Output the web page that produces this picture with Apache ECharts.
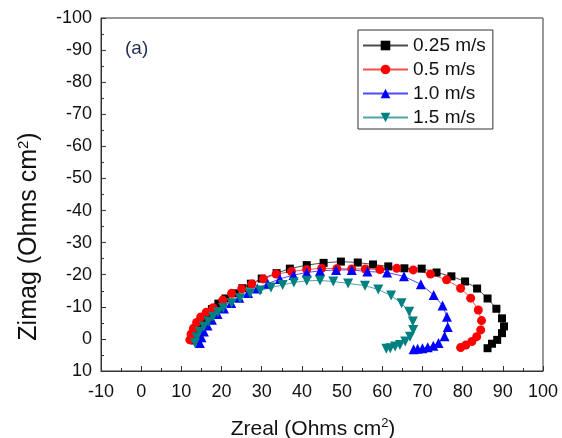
<!DOCTYPE html>
<html>
<head>
<meta charset="utf-8">
<script src="https://cdn.jsdelivr.net/npm/echarts@6/dist/echarts.min.js"></script>
<style>
  html, body { margin: 0; padding: 0; background: #fff; }
  #chart { width: 562px; height: 438px; }
</style>
</head>
<body>
<div id="chart"></div>
<script>
// Nyquist data [Zreal, Zimag]
var s025 = [[13.2,0.5],[13.5,-1.5],[14.2,-3.5],[15.2,-5.5],[16.3,-7.5],[17.6,-9.3],[19.2,-11],[21,-12.6],[23.3,-14.2],[25.2,-15.8],[27.3,-17.2],[30,-18.8],[33.7,-20.5],[37,-21.9],[41.2,-23],[45.4,-23.7],[49.7,-24.1],[53.9,-23.8],[57.7,-23.2],[61.5,-22.6],[65.5,-22],[69.8,-21.9],[73.5,-20.7],[77.2,-19.5],[80.6,-17.9],[83.6,-15.7],[86.2,-12.6],[88.4,-9.4],[89.8,-6.4],[90.3,-3.9],[89.8,-1.8],[88.6,0.3],[87.3,1.5],[86.2,2.9]];
var s05 = [[12.1,0.3],[12.4,-1.5],[13,-3.3],[13.8,-5.1],[14.8,-6.8],[16.2,-8.3],[17.9,-9.7],[20.3,-12.1],[22.5,-14.2],[25,-15.6],[27.5,-17.1],[30.4,-18.7],[33.6,-20.2],[37.4,-21],[41.2,-21.6],[44.9,-22],[48.7,-21.9],[52.4,-21.8],[55.8,-21.8],[59.4,-21.6],[63.6,-22],[67.7,-21.5],[72,-20.2],[76,-18.4],[79.5,-15.8],[82,-12.7],[83.9,-9],[84.7,-5.7],[84.5,-2.8],[83.5,-0.7],[82.3,0.8],[80.8,1.9],[79.5,2.7]];
var s10 = [[14.6,1.3],[15,-0.5],[15.6,-2.3],[16.5,-4.2],[17.6,-6],[19,-7.8],[20.6,-9.5],[22.4,-11.2],[24.4,-12.8],[26.6,-14.3],[28.9,-15.7],[31.5,-17.2],[34.5,-18.7],[37.9,-19.9],[41.2,-20.7],[44.5,-21.2],[48.5,-21.5],[52.4,-21.5],[56.3,-21],[61.2,-20.7],[65.4,-19.5],[69.6,-17],[72.8,-13.7],[75,-10.4],[76.1,-6.9],[76.3,-3.7],[75.5,-0.8],[74,1.3],[72.7,2.1],[71.3,2.6],[70,2.9],[68.8,3.1],[67.8,3.2]];
var s15 = [[13.4,1.3],[13.8,-0.5],[14.5,-2.2],[15.6,-3.9],[16.7,-5.4],[17.9,-6.9],[19.1,-8.3],[20.4,-9.6],[22.5,-11.1],[24.6,-12.7],[27.1,-14.2],[29.6,-15.1],[32.3,-16],[35.2,-16.8],[38,-17.6],[41.2,-18.1],[44.5,-18.2],[47.8,-17.9],[51.5,-17.3],[55.7,-16.6],[59,-15.4],[62.2,-13.5],[64.8,-11.1],[66.7,-8.5],[67.6,-5.4],[67.7,-2.8],[66.9,-0.7],[65.7,0.8],[64.4,1.9],[63.2,2.4],[62,2.9],[61,3.1]];

var names = ['0.25 m/s', '0.5 m/s', '1.0 m/s', '1.5 m/s'];
var colors = ['#000000', '#ff0000', '#0000ff', '#008080'];
var symbols = ['rect', 'circle', 'triangle', 'triangle'];
var sizes = [8, 9, 10, 10];
var rotates = [0, 0, 0, 180];
var allData = [s025, s05, s10, s15];

var font = 'Liberation Sans, Arial, sans-serif';
var myChart = echarts.init(document.getElementById('chart'));

var series = allData.map(function (d, i) {
    return {
        name: names[i],
        type: 'line',
        data: d,
        symbol: symbols[i],
        symbolSize: sizes[i],
        symbolRotate: rotates[i],
        showAllSymbol: true,
        itemStyle: { color: colors[i] },
        lineStyle: { color: colors[i], width: 1, opacity: 0.7 },
        animation: false
    };
});

var option = {
    animation: false,
    grid: {
        left: 101, right: 19, top: 18, bottom: 67,
        outerBoundsMode: 'none',
        show: true, borderColor: '#333', borderWidth: 1
    },
    legend: {
        orient: 'vertical',
        left: 358, top: 30,
        itemWidth: 45, itemHeight: 12, itemGap: 5,
        padding: [6, 7, 2, 4],
        borderColor: '#333', borderWidth: 1,
        textStyle: { fontFamily: font, fontSize: 19, color: '#111' },
        data: names
    },
    xAxis: {
        type: 'value',
        min: -10, max: 100, interval: 10,
        name: 'Zreal (Ohms cm{sup|2})',
        nameLocation: 'middle',
        nameGap: 46,
        nameTextStyle: {
            fontFamily: font, fontSize: 21, color: '#111',
            padding: [0, 18, 0, 0],
            rich: { sup: { fontSize: 13, padding: [0, 0, 11, 0], fontFamily: font, color: '#111' } }
        },
        axisLine: { onZero: false, lineStyle: { color: '#333' } },
        axisTick: { inside: true, length: 5, lineStyle: { color: '#333' } },
        minorTick: { show: true, splitNumber: 2, length: 3, lineStyle: { color: '#333' } },
        axisLabel: { fontFamily: font, fontSize: 18, color: '#111', margin: 12 },
        splitLine: { show: false }
    },
    yAxis: {
        type: 'value',
        inverse: true,
        min: -100, max: 10, interval: 10,
        name: 'Zimag (Ohms cm{sup|2})',
        nameLocation: 'middle',
        nameGap: 58,
        nameTextStyle: {
            fontFamily: font, fontSize: 25, color: '#111',
            padding: [0, 84, 0, 0],
            rich: { sup: { fontSize: 15, padding: [0, 0, 12, 0], fontFamily: font, color: '#111' } }
        },
        axisLine: { onZero: false, lineStyle: { color: '#333' } },
        axisTick: { inside: true, length: 5, lineStyle: { color: '#333' } },
        minorTick: { show: true, splitNumber: 2, length: 3, lineStyle: { color: '#333' } },
        axisLabel: { fontFamily: font, fontSize: 18, color: '#111', margin: 9 },
        splitLine: { show: false }
    },
    graphic: [{
        type: 'text',
        left: 125, top: 39,
        style: { text: '(a)', font: '19px Liberation Sans, Arial, sans-serif', fill: '#1f3050' }
    }],
    series: series
};

myChart.setOption(option);
</script>
</body>
</html>
